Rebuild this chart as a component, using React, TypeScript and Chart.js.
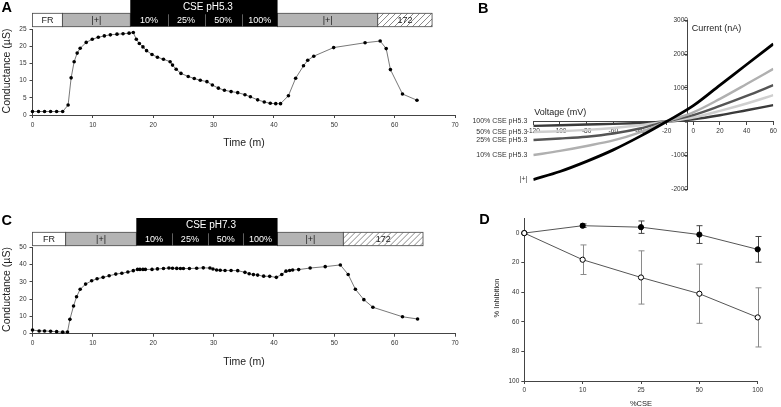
import React, { useEffect, useRef } from 'react';
import { Chart, registerables } from 'chart.js';

Chart.register(...registerables);

const FONT = '"Liberation Sans", Arial, Helvetica, sans-serif';
Chart.defaults.font.family = FONT;
Chart.defaults.color = '#333';

// ---------- Panel A: conductance, CSE pH5.3 ----------
const timeA = [0, 1, 2, 3, 4, 5, 5.9, 6.4, 6.9, 7.4, 7.9, 8.9, 9.9, 10.9, 11.9, 12.9, 14.0, 15.0, 16.0, 16.7, 17.2, 17.7, 18.3, 18.9, 19.8, 20.7, 21.7, 22.8, 23.2, 23.8, 24.6, 25.8, 26.8, 27.8, 28.9, 29.8, 30.8, 31.8, 32.9, 34.0, 35.2, 36.1, 37.3, 38.4, 39.4, 40.3, 41.1, 42.4, 43.6, 44.9, 45.6, 46.6, 49.9, 55.1, 57.6, 58.6, 59.3, 61.3, 63.7];
const condA = [1.0, 1.0, 1.0, 1.0, 1.0, 1.0, 2.9, 10.8, 15.5, 18.0, 19.4, 21.1, 22.0, 22.6, 23.0, 23.3, 23.5, 23.6, 23.8, 24.0, 22.0, 20.8, 19.8, 18.7, 17.6, 16.8, 16.2, 15.5, 14.5, 13.3, 12.1, 11.2, 10.6, 10.1, 9.7, 8.7, 7.8, 7.2, 6.8, 6.5, 5.9, 5.3, 4.4, 3.8, 3.4, 3.3, 3.3, 5.6, 10.7, 14.3, 15.9, 17.1, 19.6, 21.0, 21.5, 19.3, 13.2, 6.1, 4.3];
const segLabelsA = ['FR', '|+|', '10%', '25%', '50%', '100%', '|+|', '172'];
const segBoundsA = [0, 4.95, 16.2, 22.4, 28.5, 34.7, 40.6, 57.2, 66.2];
const headerA = 'CSE pH5.3';

// ---------- Panel C: conductance, CSE pH7.3 ----------
const timeC = [0, 1.1, 2, 3, 4, 5, 5.8, 6.2, 6.8, 7.3, 7.9, 8.8, 9.8, 10.7, 11.7, 12.7, 13.8, 14.8, 15.8, 16.7, 17.4, 17.8, 18.3, 18.7, 19.8, 20.7, 21.7, 22.6, 23.2, 23.9, 24.5, 25.0, 26.0, 27.2, 28.3, 29.4, 29.9, 30.5, 31.1, 31.9, 32.9, 34.0, 35.2, 35.9, 36.6, 37.3, 38.3, 39.3, 40.4, 41.3, 42.0, 42.6, 43.1, 44.1, 46.0, 48.5, 51.0, 52.3, 53.5, 54.9, 56.4, 61.3, 63.8];
const condC = [2.1, 1.6, 1.6, 1.4, 1.2, 0.9, 1.0, 8.3, 16.0, 21.4, 25.7, 28.7, 30.6, 31.8, 32.6, 33.5, 34.5, 35.0, 35.7, 36.5, 37.2, 37.2, 37.2, 37.2, 37.2, 37.5, 37.7, 38.0, 37.9, 37.8, 37.7, 37.7, 37.7, 37.9, 38.1, 38.0, 37.4, 36.9, 36.7, 36.6, 36.6, 36.5, 35.5, 34.7, 34.2, 33.9, 33.3, 33.2, 32.6, 34.3, 36.2, 36.6, 36.9, 37.1, 38.0, 38.8, 39.8, 34.3, 25.7, 19.7, 15.3, 9.8, 8.5];
const segLabelsC = ['FR', '|+|', '10%', '25%', '50%', '100%', '|+|', '172'];
const segBoundsC = [0, 5.5, 17.2, 23.1, 29.05, 34.95, 40.6, 51.5, 64.7];
const headerC = 'CSE pH7.3';

// ---------- Panel B: I-V curves ----------
const voltage = [-120, -100, -80, -60, -40, -20, 0, 20, 40, 60];
const ivPlus = [-1720, -1480, -1180, -840, -440, 0, 470, 1080, 1690, 2300];
const iv10 = [-994, -870, -724, -560, -320, 0, 270, 670, 1110, 1560];
const iv25 = [-548, -504, -450, -356, -208, 0, 190, 463, 760, 1077];
const iv50 = [-310, -290, -249, -190, -110, 0, 119, 315, 534, 780];
const iv100 = [-131, -110, -89, -71, -42, 0, 68, 187, 335, 484];
const ivLabels = ['|+|', '10% CSE pH5.3', '25% CSE pH5.3', '50% CSE pH5.3', '100% CSE pH5.3'];

// ---------- Panel D: % inhibition ----------
const cseLevels = ['0', '10', '25', '50', '100'];
const inhib53 = [0, 18, 30, 41, 57];
const inhib53Err = [0, 10, 18, 20, 20];
const inhib73 = [0, -5, -4, 1, 11];
const inhib73Err = [0, 1.2, 4.2, 6, 8.7];

type TextItem = {
  text: string; x: number; y: number; size: number; bold?: boolean;
  align?: CanvasTextAlign; baseline?: CanvasTextBaseline; rotate?: number; color?: string;
};

function textPlugin(items: TextItem[]) {
  return {
    id: 'texts',
    afterDraw(chart: any) {
      const ctx = chart.ctx;
      for (const t of items) {
        ctx.save();
        ctx.translate(t.x, t.y);
        if (t.rotate) ctx.rotate(t.rotate);
        ctx.font = `${t.bold ? 'bold ' : ''}${t.size}px ${FONT}`;
        ctx.fillStyle = t.color || '#222';
        ctx.textAlign = t.align || 'center';
        ctx.textBaseline = t.baseline || 'middle';
        ctx.fillText(t.text, 0, 0);
        ctx.restore();
      }
    },
  };
}

function treatmentBarPlugin(labels: string[], bounds: number[], header: string, headerTop: number, barTop: number, barBottom: number) {
  return {
    id: 'treatmentBar',
    afterDraw(chart: any) {
      const ctx = chart.ctx;
      const xs = chart.scales.x;
      const px = (v: number) => xs.getPixelForValue(v);
      const h = barBottom - barTop;
      const cse: number[] = [];
      labels.forEach((lab, i) => {
        const x0 = px(bounds[i]);
        const x1 = px(bounds[i + 1]);
        ctx.save();
        if (lab === 'FR') {
          ctx.fillStyle = '#fff';
          ctx.fillRect(x0, barTop, x1 - x0, h);
        } else if (lab === '|+|') {
          ctx.fillStyle = '#b4b4b4';
          ctx.fillRect(x0, barTop, x1 - x0, h);
        } else if (lab === '172') {
          ctx.fillStyle = '#fff';
          ctx.fillRect(x0, barTop, x1 - x0, h);
          ctx.beginPath();
          ctx.rect(x0, barTop, x1 - x0, h);
          ctx.clip();
          ctx.strokeStyle = '#555';
          ctx.lineWidth = 0.7;
          for (let s = x0 - h; s < x1 + h; s += 6) {
            ctx.beginPath();
            ctx.moveTo(s, barBottom);
            ctx.lineTo(s + h, barTop);
            ctx.stroke();
          }
        } else {
          cse.push(i);
        }
        ctx.restore();
        if (lab === 'FR' || lab === '|+|' || lab === '172') {
          ctx.save();
          ctx.strokeStyle = '#444';
          ctx.lineWidth = 0.8;
          ctx.strokeRect(x0, barTop, x1 - x0, h);
          ctx.restore();
        }
      });
      if (cse.length) {
        const hx0 = px(bounds[cse[0]]);
        const hx1 = px(bounds[cse[cse.length - 1] + 1]);
        ctx.save();
        ctx.fillStyle = '#000';
        ctx.fillRect(hx0, headerTop, hx1 - hx0, barBottom - headerTop);
        ctx.strokeStyle = '#777';
        ctx.lineWidth = 0.8;
        for (let k = 1; k < cse.length; k++) {
          const xx = Math.round(px(bounds[cse[k]])) + 0.5;
          ctx.beginPath();
          ctx.moveTo(xx, barTop + 1);
          ctx.lineTo(xx, barBottom);
          ctx.stroke();
        }
        ctx.fillStyle = '#fff';
        ctx.font = `10px ${FONT}`;
        ctx.textAlign = 'center';
        ctx.textBaseline = 'middle';
        ctx.fillText(header, (hx0 + hx1) / 2 + 4, (headerTop + barTop) / 2 + 0.5);
        ctx.restore();
      }
      labels.forEach((lab, i) => {
        const x0 = px(bounds[i]);
        const x1 = px(bounds[i + 1]);
        ctx.save();
        ctx.font = `9px ${FONT}`;
        ctx.textAlign = 'center';
        ctx.textBaseline = 'middle';
        ctx.fillStyle = cse.includes(i) ? '#fff' : '#222';
        ctx.fillText(lab, (x0 + x1) / 2, (barTop + barBottom) / 2 + 0.5);
        ctx.restore();
      });
    },
  };
}

const axisGrid = { display: true, drawOnChartArea: false, drawTicks: true, tickLength: 3, color: '#444', lineWidth: 1 };
const axisBorder = { display: true, color: '#444', width: 1 };
const plainNumber = (v: any) => String(v);

type Area = { left: number; right: number; top: number; bottom: number };

function conductanceConfig(p: {
  time: number[]; cond: number[]; yMax: number; yStep: number; segLabels: string[]; segBounds: number[];
  header: string; w: number; h: number; ca: Area; headerTop: number; barTop: number; barBottom: number;
  letter: string; letterBaseline: number; xTitleY: number;
}): any {
  const { ca, w, h } = p;
  return {
    type: 'line',
    data: {
      datasets: [{
        data: p.time.map((t, i) => ({ x: t, y: p.cond[i] })),
        borderColor: '#555', borderWidth: 0.8, pointRadius: 1.8, pointBackgroundColor: '#000',
        pointBorderWidth: 0, tension: 0, clip: 6,
      }],
    },
    options: {
      responsive: false, animation: false, devicePixelRatio: 1, events: [],
      plugins: { legend: { display: false }, tooltip: { enabled: false } },
      layout: { padding: { left: 0, top: ca.top, right: w - ca.right, bottom: 0 } },
      scales: {
        x: {
          type: 'linear', min: 0, max: 70,
          afterFit: (s: any) => { s.height = h - ca.bottom; },
          ticks: { stepSize: 10, font: { size: 6.5 }, padding: 3, color: '#333', maxRotation: 0, autoSkip: false, callback: plainNumber },
          grid: axisGrid, border: axisBorder,
        },
        y: {
          type: 'linear', min: 0, max: p.yMax,
          afterFit: (s: any) => { s.width = ca.left; },
          ticks: { stepSize: p.yStep, font: { size: 6.5 }, padding: 3, color: '#333', callback: plainNumber },
          grid: axisGrid, border: axisBorder,
        },
      },
    },
    plugins: [
      treatmentBarPlugin(p.segLabels, p.segBounds, p.header, p.headerTop, p.barTop, p.barBottom),
      textPlugin([
        { text: 'Time (m)', x: 244, y: p.xTitleY, size: 10.5 },
        { text: 'Conductance (µS)', x: 7, y: (ca.top + ca.bottom) / 2 - 1, size: 10.5, rotate: -Math.PI / 2 },
        { text: p.letter, x: 1.5, y: p.letterBaseline, size: 14.5, bold: true, align: 'left', baseline: 'alphabetic', color: '#000' },
      ]),
    ],
  };
}

function ivConfig(): any {
  const w = 321, h = 200;
  const ca = { left: 73.3, right: 313.3, top: 20.3, bottom: 189 };
  const series = [ivPlus, iv10, iv25, iv50, iv100];
  const colors = ['#000', '#b0b0b0', '#555', '#cfcfcf', '#3a3a3a'];
  const widths = [2.8, 2.4, 2.4, 2.4, 2.4];
  const curveLabels = {
    id: 'curveLabels',
    afterDraw(chart: any) {
      const ctx = chart.ctx;
      const xs = chart.scales.x, ys = chart.scales.y;
      const x = xs.getPixelForValue(voltage[0]) - 6;
      ctx.save();
      ctx.font = `7px ${FONT}`;
      ctx.fillStyle = '#333';
      ctx.textAlign = 'right';
      ctx.textBaseline = 'middle';
      series.forEach((s, i) => {
        const shift = ivLabels[i].startsWith('100%') ? -4.5 : 0;
        ctx.fillText(ivLabels[i], x, ys.getPixelForValue(s[0]) + shift);
      });
      ctx.restore();
    },
  };
  return {
    type: 'line',
    data: {
      datasets: series.map((s, i) => ({
        label: ivLabels[i],
        data: voltage.map((v, j) => ({ x: v, y: s[j] })),
        borderColor: colors[i], borderWidth: widths[i], pointRadius: 0,
        cubicInterpolationMode: 'monotone',
      })),
    },
    options: {
      responsive: false, animation: false, devicePixelRatio: 1, events: [],
      plugins: { legend: { display: false }, tooltip: { enabled: false } },
      layout: { padding: { left: ca.left, top: ca.top, right: w - ca.right, bottom: h - ca.bottom } },
      scales: {
        x: {
          type: 'linear', min: -120, max: 60, position: { y: 0 },
          ticks: { stepSize: 20, font: { size: 6.5 }, padding: 2.5, color: '#333', maxRotation: 0, autoSkip: false, callback: plainNumber },
          grid: axisGrid, border: axisBorder,
        },
        y: {
          type: 'linear', min: -2000, max: 3000, position: { x: -4 },
          ticks: { stepSize: 1000, font: { size: 6.5 }, padding: 2, color: '#333', callback: plainNumber },
          grid: axisGrid, border: axisBorder,
        },
      },
    },
    plugins: [
      curveLabels,
      textPlugin([
        { text: 'Voltage (mV)', x: 100.3, y: 112.7, size: 9 },
        { text: 'Current (nA)', x: 256.5, y: 29, size: 9 },
        { text: 'B', x: 18, y: 12.7, size: 14.5, bold: true, align: 'left', baseline: 'alphabetic', color: '#000' },
      ]),
    ],
  };
}

function inhibitionConfig(): any {
  const w = 321, h = 207;
  const ca = { left: 64.3, right: 297.7, top: 18.3, bottom: 181 };
  const errs = [inhib53Err, inhib73Err];
  const errColors = ['#8a8a8a', '#444'];
  const errorBars = {
    id: 'errorBars',
    beforeDatasetsDraw(chart: any) {
      const ctx = chart.ctx;
      const ys = chart.scales.y;
      chart.data.datasets.forEach((ds: any, di: number) => {
        const meta = chart.getDatasetMeta(di);
        meta.data.forEach((pt: any, i: number) => {
          const e = errs[di][i];
          if (!e) return;
          const v = ds.data[i].y;
          const yA = ys.getPixelForValue(v - e);
          const yB = ys.getPixelForValue(v + e);
          const x = Math.round(pt.x) + 0.5;
          ctx.save();
          ctx.strokeStyle = errColors[di];
          ctx.lineWidth = 1;
          ctx.beginPath();
          ctx.moveTo(x, yA); ctx.lineTo(x, yB);
          ctx.moveTo(x - 3, yA); ctx.lineTo(x + 3, yA);
          ctx.moveTo(x - 3, yB); ctx.lineTo(x + 3, yB);
          ctx.stroke();
          ctx.restore();
        });
      });
    },
  };
  return {
    type: 'line',
    data: {
      datasets: [
        {
          label: 'pH5.3', data: inhib53.map((v, i) => ({ x: i, y: v })),
          borderColor: '#555', borderWidth: 1, pointRadius: 2.6, pointBackgroundColor: '#fff',
          pointBorderColor: '#000', pointBorderWidth: 1, tension: 0, clip: 8,
        },
        {
          label: 'pH7.3', data: inhib73.map((v, i) => ({ x: i, y: v })),
          borderColor: '#555', borderWidth: 1, pointRadius: 2.6, pointBackgroundColor: '#000',
          pointBorderColor: '#000', pointBorderWidth: 1, tension: 0, clip: 8,
        },
      ],
    },
    options: {
      responsive: false, animation: false, devicePixelRatio: 1, events: [],
      plugins: { legend: { display: false }, tooltip: { enabled: false } },
      layout: { padding: { left: 0, top: ca.top, right: w - ca.right, bottom: 0 } },
      scales: {
        x: {
          type: 'linear', min: 0, max: cseLevels.length - 1,
          afterFit: (s: any) => { s.height = h - ca.bottom; },
          ticks: { stepSize: 1, font: { size: 6.5 }, padding: 2, color: '#333', maxRotation: 0, autoSkip: false,
            callback: (v: any) => cseLevels[v] ?? '' },
          grid: axisGrid, border: axisBorder,
        },
        y: {
          type: 'linear', min: -10, max: 100, reverse: true,
          afterFit: (s: any) => { s.width = ca.left; },
          afterBuildTicks: (s: any) => { s.ticks = s.ticks.filter((t: any) => t.value >= 0); },
          ticks: { stepSize: 20, font: { size: 6.5 }, padding: 2, color: '#333', callback: plainNumber },
          grid: axisGrid, border: axisBorder,
        },
      },
    },
    plugins: [
      errorBars,
      textPlugin([
        { text: '%CSE', x: 181, y: 204, size: 7.5 },
        { text: '% Inhibition', x: 37, y: 98, size: 7.5, rotate: -Math.PI / 2 },
        { text: 'D', x: 19.3, y: 24, size: 14.5, bold: true, align: 'left', baseline: 'alphabetic', color: '#000' },
      ]),
    ],
  };
}

function ChartBox(props: { left: number; top: number; width: number; height: number; make: () => any }) {
  const ref = useRef<HTMLCanvasElement>(null);
  useEffect(() => {
    const chart = new Chart(ref.current as HTMLCanvasElement, props.make());
    return () => chart.destroy();
  }, []);
  return (
    <canvas
      ref={ref}
      width={props.width}
      height={props.height}
      style={{ position: 'absolute', left: props.left, top: props.top, width: props.width, height: props.height, display: 'block' }}
    />
  );
}

export default function App() {
  return (
    <div style={{ position: 'fixed', left: 0, top: 0, width: 781, height: 407, overflow: 'hidden', background: '#fff' }}>
      <ChartBox left={0} top={0} width={470} height={160} make={() => conductanceConfig({
        time: timeA, cond: condA, yMax: 25, yStep: 5, segLabels: segLabelsA, segBounds: segBoundsA, header: headerA,
        w: 470, h: 160, ca: { left: 32.5, right: 455, top: 29, bottom: 115 },
        headerTop: 0, barTop: 13.3, barBottom: 26.7, letter: 'A', letterBaseline: 12, xTitleY: 143,
      })} />
      <ChartBox left={0} top={200} width={470} height={180} make={() => conductanceConfig({
        time: timeC, cond: condC, yMax: 50, yStep: 10, segLabels: segLabelsC, segBounds: segBoundsC, header: headerC,
        w: 470, h: 180, ca: { left: 32.5, right: 455, top: 47.3, bottom: 133.7 },
        headerTop: 18, barTop: 32.3, barBottom: 45.7, letter: 'C', letterBaseline: 25, xTitleY: 161.7,
      })} />
      <ChartBox left={460} top={0} width={321} height={200} make={ivConfig} />
      <ChartBox left={460} top={200} width={321} height={207} make={inhibitionConfig} />
    </div>
  );
}
